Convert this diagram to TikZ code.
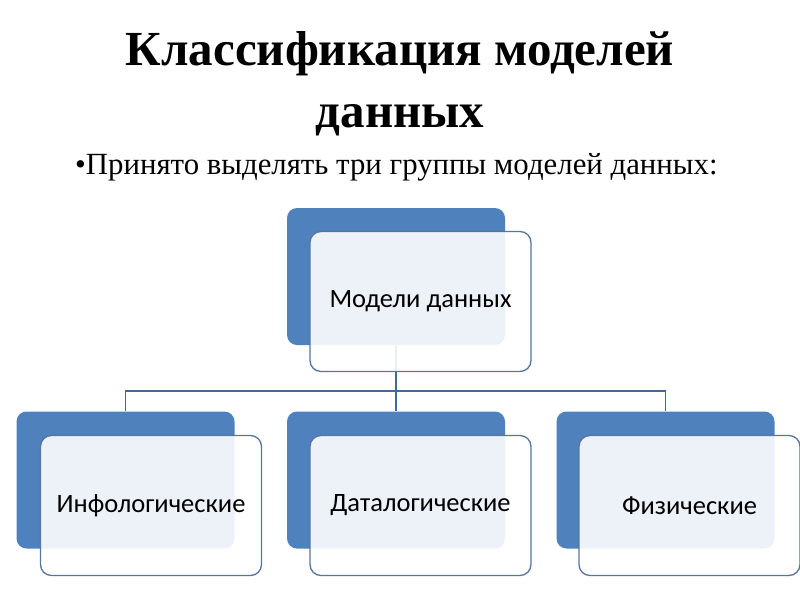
\documentclass[tikz,border=0pt]{standalone}
\usepackage{fontspec}
\setmainfont{Liberation Serif}
\newfontfamily\boxfont{Carlito}
\definecolor{accblue}{RGB}{79,129,189}
\definecolor{edgeblue}{RGB}{86,118,160}
\definecolor{linkblue}{RGB}{65,105,150}
\tikzset{
  backbox/.style={draw=none, fill=accblue, rounded corners=10pt, minimum width=218pt, minimum height=137pt, inner sep=0pt},
  frontbox/.style={draw=edgeblue, line width=1.3pt, fill=white, fill opacity=0.9, text opacity=1, rounded corners=11pt, minimum width=221pt, minimum height=140pt, inner sep=0pt, font=\boxfont\fontsize{26.5}{30}\selectfont},
  link/.style={draw=linkblue, line width=1.5pt},
  titletext/.style={font=\bfseries\fontsize{49}{58}\selectfont, anchor=base, inner sep=0pt}
}
\begin{document}
\begin{tikzpicture}[x=1pt,y=-1pt]
\useasboundingbox (0,0) rectangle (800,600);
\node[titletext] (title) at (400,65) {Классификация моделей};
\node[titletext] (title2) at (400,127) {данных};
\node[anchor=base west, font=\fontsize{30.8}{36}\selectfont, inner sep=0pt] (bullet) at (75,174) {•Принято выделять три группы моделей данных:};
% back boxes
\node[backbox] (b0) at (396,276.5) {};
\node[backbox] (b1) at (125.5,480) {};
\node[backbox] (b2) at (396,480) {};
\node[backbox] (b3) at (665.5,480) {};
% connectors
\coordinate (hub) at (396,391);
\draw[link] (b0.south) -- (hub);
\draw[link] (hub) -| (b1.north);
\draw[link] (hub) -- (b2.north);
\draw[link] (hub) -| (b3.north);
% front boxes
\node[frontbox] (f0) at (420.5,301.5) {Модели данных};
\node[frontbox] (f1) at (151,505.5) {Инфологические};
\node[frontbox] (f2) at (420.5,505.5) {Даталогические};
\node[frontbox] (f3) at (689.5,505.5) {Физические};
\end{tikzpicture}
\end{document}
